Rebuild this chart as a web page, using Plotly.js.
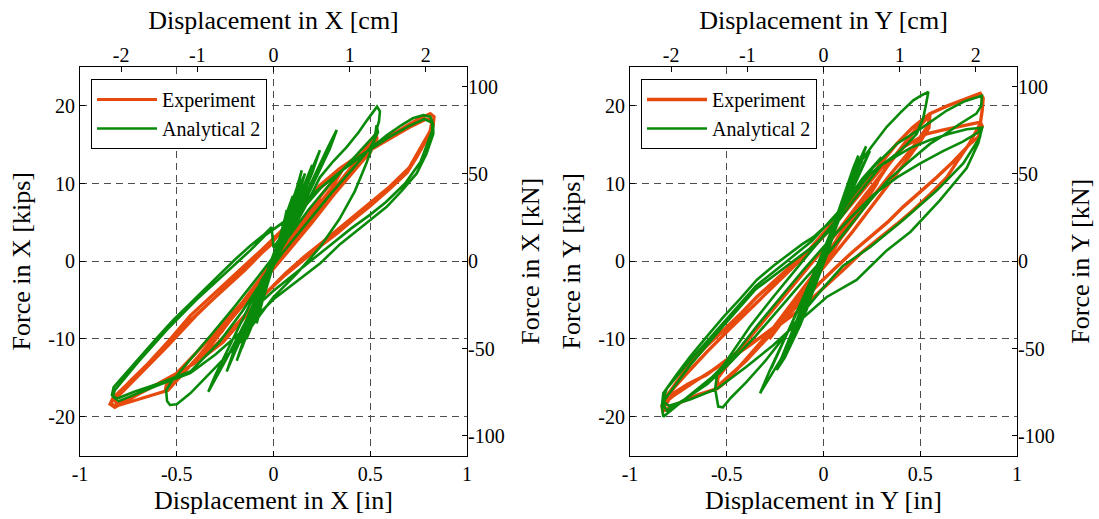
<!DOCTYPE html>
<html><head><meta charset="utf-8">
<script src="https://cdn.plot.ly/plotly-3.0.1.min.js"></script>
<style>html,body{margin:0;padding:0;background:#fff}#chart{width:1099px;height:519px}</style>
</head><body><div id="chart"></div><script>
// ---- tick labels ----
const inTickVals = [-1, -0.5, 0, 0.5, 1];
const inTickText = ['-1', '-0.5', '0', '0.5', '1'];
const cmTickVals = [-2, -1, 0, 1, 2];
const cmTickText = ['-2', '-1', '0', '1', '2'];
const kipTickVals = [-20, -10, 0, 10, 20];
const kipTickText = ['-20', '-10', '0', '10', '20'];
const kNTickVals = [-100, -50, 0, 50, 100];
const kNTickText = ['-100', '-50', '0', '50', '100'];
const seriesNames = ['Experiment', 'Analytical 2'];

// ---- X direction: [displacement in, force kips] ----
const expX = [
[0.00,0.0],[0.06,2.2],[0.12,4.3],[0.08,2.6],[0.00,-0.2],[-0.08,-3.0],[-0.13,-4.8],[-0.09,-3.2],[0.00,0.3],
[0.10,3.8],[0.20,7.0],[0.24,8.2],[0.18,5.8],[0.08,2.4],[-0.05,-1.6],[-0.15,-5.0],[-0.24,-8.0],[-0.27,-9.2],[-0.20,-6.6],[-0.08,-2.6],
[0.05,1.8],[0.15,5.2],[0.25,8.6],[0.33,11.0],[0.36,11.9],[0.30,9.4],[0.18,5.6],[0.05,1.3],[-0.10,-3.8],[-0.22,-7.5],[-0.32,-10.6],[-0.36,-12.0],
[-0.30,-10.0],[-0.18,-6.2],[-0.05,-2.0],[0.08,2.2],[0.20,5.8],[0.33,9.8],[0.43,13.0],[0.50,15.3],[0.53,16.4],[0.535,15.8],[0.50,14.0],[0.42,11.8],[0.30,8.4],[0.18,4.9],[0.05,1.0],[-0.08,-3.0],[-0.20,-6.6],[-0.32,-10.2],[-0.42,-13.2],[-0.50,-15.3],[-0.56,-16.8],
[-0.555,-16.0],[-0.50,-14.4],[-0.40,-11.8],[-0.28,-8.6],[-0.15,-5.0],[0.00,-0.8],[0.15,3.8],[0.28,8.0],[0.40,11.8],[0.48,14.4],[0.53,16.0],[0.525,15.2],[0.45,12.6],[0.32,8.8],[0.20,5.0],[0.06,0.8],[-0.10,-4.0],[-0.25,-8.4],[-0.38,-12.0],[-0.48,-14.8],[-0.545,-16.6],
[-0.65,-17.4],[-0.75,-18.2],[-0.82,-18.7],[-0.84,-18.2],
[-0.80,-17.0],[-0.74,-15.4],[-0.65,-13.2],[-0.54,-10.2],[-0.43,-7.0],[-0.30,-4.0],[-0.18,-1.3],[-0.06,1.5],[0.04,3.9],[0.14,6.9],[0.24,9.8],[0.34,11.9],[0.45,13.8],[0.55,15.4],[0.65,16.9],[0.74,18.2],[0.81,19.0],[0.83,18.6],
[0.825,17.4],[0.79,15.6],[0.74,13.4],[0.69,11.4],[0.60,9.3],[0.50,7.1],[0.41,5.3],[0.33,3.6],[0.24,1.9],[0.15,0.1],[0.05,-2.0],[-0.05,-4.4],[-0.15,-7.2],[-0.26,-10.4],[-0.38,-12.7],[-0.52,-14.8],[-0.69,-17.0],[-0.78,-18.3],[-0.82,-18.8],[-0.845,-18.4],
[-0.83,-17.6],[-0.76,-15.9],[-0.66,-13.6],[-0.55,-10.8],[-0.43,-7.6],[-0.30,-4.6],[-0.15,-1.2],[0.00,2.6],[0.12,6.2],[0.24,9.4],[0.36,11.9],[0.48,14.0],[0.60,15.8],[0.70,17.2],[0.79,18.3],[0.82,18.2],
[0.81,16.8],[0.76,14.6],[0.70,12.0],[0.60,9.6],[0.48,7.1],[0.36,4.6],[0.26,2.6],[0.16,0.6],[0.06,-1.6],[-0.06,-4.6],[-0.18,-7.8],[-0.30,-10.8],[-0.44,-13.6],[-0.60,-15.8],[-0.74,-17.6],[-0.81,-18.4],
[-0.82,-17.8],[-0.70,-14.8],[-0.55,-11.0],[-0.40,-7.0],[-0.25,-3.4],[-0.10,0.2],[0.00,2.4]
];
const anaX = [
[0.00,0.0],[0.04,3.2],[0.068,6.6],[0.05,4.4],[0.00,0.2],[-0.05,-4.2],[-0.087,-8.0],[-0.06,-5.4],[0.00,-0.4],
[0.06,5.0],[0.12,9.4],[0.146,11.7],[0.12,9.0],[0.05,3.4],[-0.05,-3.6],[-0.12,-8.4],[-0.164,-11.2],[-0.13,-8.6],[-0.05,-2.4],
[0.05,4.2],[0.12,8.8],[0.163,11.3],[0.13,8.6],[0.02,1.0],[-0.10,-6.4],[-0.18,-10.6],[-0.21,-12.3],[-0.16,-9.4],[-0.05,-2.8],
[0.04,3.6],[0.10,8.0],[0.14,10.6],[0.10,7.4],[0.00,0.6],[-0.08,-5.8],[-0.14,-9.8],[-0.11,-7.6],[-0.02,-1.2],
[0.06,3.8],[0.16,9.6],[0.24,14.3],[0.20,11.4],[0.08,4.2],[-0.06,-3.6],[-0.16,-9.4],[-0.242,-14.2],[-0.20,-11.2],[-0.08,-4.0],
[0.04,2.4],[0.12,7.4],[0.20,12.4],[0.17,10.0],[0.06,3.0],[-0.06,-4.2],[-0.15,-10.0],[-0.19,-12.8],[-0.15,-9.8],[-0.04,-2.6],
[0.06,3.0],[0.18,9.4],[0.28,14.6],[0.327,16.9],[0.29,14.4],[0.16,7.6],[0.02,0.4],[-0.12,-6.6],[-0.24,-12.4],[-0.337,-16.8],[-0.30,-14.6],[-0.18,-8.4],[-0.06,-2.4],
[0.06,2.4],[0.16,6.8],[0.24,10.8],[0.31,12.9],[0.378,14.7],[0.44,16.6],[0.482,18.1],[0.52,19.4],[0.535,19.9],[0.55,19.3],[0.545,18.0],[0.525,16.3],
[0.47,14.8],[0.40,13.0],[0.30,10.2],[0.18,6.6],[0.05,2.2],[-0.08,-2.0],[-0.20,-5.8],[-0.32,-9.4],[-0.44,-13.0],[-0.53,-15.6],[-0.555,-16.6],[-0.55,-18.0],[-0.535,-18.5],[-0.50,-18.4],
[-0.43,-17.0],[-0.345,-14.8],[-0.26,-12.7],[-0.173,-10.4],[-0.09,-7.6],[0.00,-4.6],[0.12,-1.6],[0.24,1.8],[0.34,5.4],[0.42,9.0],[0.48,12.6],[0.52,15.4],[0.533,17.5],[0.54,16.6],[0.50,14.6],[0.42,12.2],[0.30,8.8],[0.18,5.2],[0.05,1.2],
[-0.06,-2.6],[-0.16,-6.4],[-0.28,-10.4],[-0.43,-14.2],[-0.60,-15.8],[-0.72,-16.8],[-0.81,-17.7],[-0.835,-17.2],
[-0.826,-16.2],[-0.76,-14.3],[-0.69,-12.3],[-0.60,-9.8],[-0.52,-7.6],[-0.43,-5.4],[-0.345,-3.4],[-0.27,-1.6],[-0.20,0.2],[-0.12,2.0],[-0.05,3.4],[-0.01,4.4],[0.00,1.8],
[0.06,3.8],[0.14,6.4],[0.25,9.6],[0.35,11.6],[0.447,13.4],[0.52,14.9],[0.585,16.2],[0.66,17.5],[0.72,18.4],[0.774,18.8],[0.81,18.6],[0.825,17.6],[0.826,16.4],
[0.79,13.8],[0.74,11.3],[0.66,9.0],[0.585,7.0],[0.50,5.3],[0.412,3.6],[0.344,2.2],[0.24,-0.3],[0.16,-1.8],[0.085,-3.3],[0.00,-4.9],[-0.10,-7.4],[-0.19,-9.6],[-0.30,-12.0],[-0.43,-14.4],[-0.60,-16.0],[-0.72,-17.2],[-0.80,-18.0],[-0.83,-17.4],
[-0.82,-16.6],[-0.70,-13.0],[-0.55,-8.8],[-0.40,-5.0],[-0.25,-1.6],[-0.12,1.4],[-0.04,3.4],[0.05,5.0],[0.15,7.6],[0.30,10.6],[0.45,13.6],[0.60,16.0],[0.70,17.4],[0.78,18.3],[0.82,17.8],
[0.82,16.8],[0.76,12.8],[0.68,10.0],[0.58,7.6],[0.50,6.0],[0.40,4.2],[0.30,2.2],[0.20,0.2],[0.10,-1.8],[0.00,-3.8],[-0.08,-5.6],
[0.00,0.0],[0.06,5.6],[0.10,8.4],[0.07,5.8],[0.00,0.4],[-0.10,-7.6],[-0.14,-10.0]
];

// ---- Y direction: [displacement in, force kips] ----
const expY = [
[0.00,0.0],[0.08,3.0],[0.14,5.2],[0.10,3.4],[0.00,-0.6],[-0.10,-4.0],[-0.15,-5.8],[-0.10,-3.8],[0.00,0.2],
[0.12,4.8],[0.24,8.8],[0.28,10.2],[0.20,7.0],[0.06,1.8],[-0.10,-4.0],[-0.22,-8.0],[-0.28,-10.0],[-0.20,-7.0],[-0.06,-2.0],
[0.10,3.6],[0.22,8.0],[0.34,12.6],[0.45,16.2],[0.52,18.2],[0.55,19.0],[0.545,17.2],[0.50,15.4],[0.40,12.0],[0.28,8.0],[0.15,3.8],[0.00,-0.8],[-0.15,-5.6],[-0.28,-9.6],[-0.40,-12.8],[-0.50,-15.0],[-0.552,-16.2],
[-0.545,-15.0],[-0.48,-12.8],[-0.36,-9.2],[-0.22,-5.0],[-0.08,-0.8],[0.06,3.4],[0.20,8.0],[0.34,12.6],[0.46,16.4],[0.55,18.8],[0.54,17.4],[0.46,14.6],[0.34,11.0],[0.20,6.6],[0.06,2.0],[-0.10,-3.4],[-0.26,-8.6],[-0.40,-12.6],[-0.50,-15.4],[-0.55,-16.4],
[-0.65,-17.2],[-0.76,-18.4],[-0.83,-19.3],[-0.835,-18.6],
[-0.80,-17.0],[-0.69,-13.1],[-0.60,-10.8],[-0.518,-8.9],[-0.43,-6.8],[-0.345,-4.6],[-0.26,-2.6],[-0.173,-0.7],[-0.08,1.3],[0.00,3.6],[0.10,6.6],[0.206,9.6],[0.29,12.4],[0.378,15.1],[0.46,17.2],[0.55,19.0],[0.64,20.0],[0.73,20.9],[0.81,21.6],[0.825,21.0],
[0.82,19.4],[0.81,17.7],[0.75,15.0],[0.70,13.2],[0.637,10.8],[0.55,8.6],[0.464,6.6],[0.38,4.8],[0.292,3.1],[0.20,1.2],[0.12,-0.7],[0.04,-2.5],[-0.035,-4.2],[-0.13,-6.4],[-0.26,-8.8],[-0.431,-11.4],[-0.604,-14.6],[-0.70,-15.8],[-0.776,-17.0],[-0.82,-18.6],[-0.83,-19.2],
[-0.82,-17.6],[-0.72,-14.8],[-0.60,-11.6],[-0.48,-8.6],[-0.35,-5.4],[-0.20,-1.8],[-0.06,1.6],[0.06,4.8],[0.18,8.4],[0.30,12.0],[0.42,14.8],[0.533,16.4],[0.62,16.9],[0.70,17.3],[0.81,17.9],[0.82,17.4],
[0.80,16.0],[0.757,15.1],[0.67,12.8],[0.585,10.8],[0.50,8.9],[0.412,7.0],[0.33,5.0],[0.24,3.1],[0.15,1.2],[0.068,-0.7],[-0.02,-2.8],[-0.12,-5.4],[-0.24,-8.2],[-0.38,-10.8],[-0.52,-13.2],[-0.66,-15.4],[-0.78,-17.4],[-0.82,-18.2]
];
const anaY = [
[0.00,0.0],[0.04,3.0],[0.08,6.0],[0.05,3.6],[-0.04,-2.8],[-0.09,-6.4],[-0.05,-3.4],[0.02,1.8],
[0.08,6.4],[0.13,10.2],[0.10,7.6],[0.00,0.0],[-0.10,-7.0],[-0.173,-11.0],[-0.12,-7.8],[-0.02,-0.6],
[0.08,6.8],[0.154,12.0],[0.18,13.6],[0.14,10.2],[0.02,1.0],[-0.12,-8.2],[-0.20,-12.4],[-0.242,-14.0],[-0.20,-11.4],[-0.06,-2.8],
[0.04,3.4],[0.12,9.0],[0.20,13.0],[0.16,10.8],[0.06,4.6],[-0.06,-3.0],[-0.16,-9.6],[-0.22,-13.2],[-0.17,-10.4],[-0.05,-2.6],
[0.06,4.6],[0.16,11.6],[0.22,14.8],[0.18,12.0],[0.05,3.4],[-0.10,-6.6],[-0.22,-12.6],[-0.328,-17.0],[-0.28,-14.2],[-0.14,-6.8],[0.00,0.8],
[0.09,6.2],[0.17,10.6],[0.24,14.2],[0.20,12.0],[0.08,5.4],[-0.06,-2.2],[-0.18,-9.0],[-0.27,-13.8],[-0.23,-11.6],[-0.10,-4.4],[0.00,1.4],
[0.10,7.6],[0.171,12.1],[0.25,14.8],[0.327,17.3],[0.40,19.2],[0.464,20.7],[0.51,21.4],[0.542,21.8],[0.53,20.2],[0.516,18.5],[0.482,16.4],[0.43,15.0],[0.378,13.8],[0.30,12.4],[0.24,11.2],[0.15,8.4],[0.05,4.8],[-0.05,1.8],[-0.15,-1.2],[-0.26,-4.6],[-0.38,-8.4],[-0.48,-12.0],[-0.55,-14.6],[-0.56,-16.4],[-0.55,-18.0],[-0.544,-18.7],[-0.52,-18.8],
[-0.48,-17.6],[-0.40,-15.6],[-0.30,-12.8],[-0.20,-9.6],[-0.10,-6.4],[0.00,-3.4],[0.10,-0.6],[0.24,1.8],[0.412,5.3],[0.585,9.1],[0.722,12.6],[0.809,16.0],[0.818,17.3],
[0.80,16.6],[0.72,15.4],[0.62,14.2],[0.50,12.6],[0.38,10.8],[0.26,8.6],[0.14,5.6],[0.02,2.4],[-0.10,-1.0],[-0.22,-4.6],[-0.34,-8.2],[-0.46,-12.0],[-0.58,-15.0],[-0.69,-17.2],[-0.80,-19.4],[-0.828,-20.0],
[-0.835,-18.6],[-0.828,-17.0],[-0.76,-14.6],[-0.69,-12.3],[-0.60,-9.6],[-0.518,-7.2],[-0.43,-4.8],[-0.345,-2.4],[-0.26,-0.6],[-0.173,1.0],[-0.11,2.2],[-0.053,3.1],[0.05,5.4],[0.15,8.6],[0.257,12.1],[0.378,15.1],[0.516,17.3],[0.637,19.4],[0.73,20.6],[0.818,21.3],[0.815,20.0],[0.79,19.0],[0.70,17.6],[0.62,16.2],[0.55,15.1],
[0.45,13.0],[0.34,10.6],[0.24,7.8],[0.14,4.6],[0.03,1.2],[-0.10,-2.4],[-0.22,-5.8],[-0.35,-9.6],[-0.48,-13.0],[-0.60,-15.8],[-0.72,-17.8],[-0.81,-19.2],[-0.83,-18.4],
[-0.82,-17.8],[-0.69,-13.4],[-0.52,-8.4],[-0.35,-3.6],[-0.17,-0.2],[-0.05,2.0],[0.06,4.6],[0.16,8.0],[0.30,12.4],[0.45,14.6],[0.55,15.6],[0.65,16.4],[0.74,17.0],[0.82,17.2],
[0.80,15.2],[0.74,12.0],[0.60,7.8],[0.45,3.8],[0.327,1.4],[0.171,-2.4],[0.017,-4.6],[-0.12,-7.6],[-0.26,-10.8],[-0.40,-13.6],[-0.55,-16.4],[-0.69,-17.8],[-0.80,-18.6],[-0.83,-18.0],
[-0.81,-16.4],[-0.69,-12.8],[-0.52,-8.0],[-0.35,-3.2],[-0.17,0.4],[-0.06,2.6],[0.10,7.0],[0.20,10.6],[0.30,13.4]
];

// ---- styling ----
const FONT = 'Liberation Serif, Times New Roman, serif';
const W = 1099, H = 519;
const ORANGE = '#E64A0C', GREEN = '#0A8A0A';
const IN_RANGE = [-1, 1], KIP_RANGE = [-25, 25];
const CM_PER_IN = 2.54, KN_PER_KIP = 4.448222;
const LEFT_DOM = [80 / W, 467 / W], RIGHT_DOM = [630 / W, 1017 / W], Y_DOM = [1 - 455.5 / H, 1 - 67 / H];

function tr(data, name, color, xa, ya, leg, width) {
  return { type: 'scatter', mode: 'lines', name: name,
    x: data.map(p => p[0]), y: data.map(p => p[1]),
    xaxis: xa, yaxis: ya, legend: leg,
    line: { color: color, width: width }, hoverinfo: 'skip' };
}
// empty carriers so the secondary (cm / kN) axes are drawn
function carrier(xa, ya) {
  return { type: 'scatter', mode: 'lines', x: [], y: [], xaxis: xa, yaxis: ya, showlegend: false, hoverinfo: 'skip' };
}
const traces = [
  tr(expX, seriesNames[0], ORANGE, 'x', 'y', 'legend', 3.2),
  tr(anaX, seriesNames[1], GREEN, 'x', 'y', 'legend', 2.6),
  tr(expY, seriesNames[0], ORANGE, 'x2', 'y2', 'legend2', 3.4),
  tr(anaY, seriesNames[1], GREEN, 'x2', 'y2', 'legend2', 2.6),
  carrier('x3', 'y'), carrier('x', 'y3'), carrier('x4', 'y2'), carrier('x2', 'y4')
];

const tickFont = { family: FONT, size: 20, color: '#000' };
const titleFont = { family: FONT, size: 26, color: '#000' };
function ax(o) {
  return Object.assign({
    ticks: 'inside', ticklen: 5, tickwidth: 1, tickcolor: '#000',
    tickfont: tickFont, tickmode: 'array', zeroline: false,
    automargin: false, fixedrange: true, linecolor: '#000', linewidth: 1
  }, o);
}
const gridStyle = { showgrid: true, gridcolor: '#4d4d4d', gridwidth: 1, griddash: '7px,5px' };

function bottomX(dom, anchor, label) {
  return ax(Object.assign({ domain: dom, anchor: anchor, range: IN_RANGE, tickvals: inTickVals, ticktext: inTickText,
    showline: true, mirror: true, title: { text: label, font: titleFont, standoff: 7 } }, gridStyle));
}
function leftY(anchor, label) {
  return ax(Object.assign({ domain: Y_DOM, anchor: anchor, range: KIP_RANGE, tickvals: kipTickVals, ticktext: kipTickText,
    showline: true, mirror: true, title: { text: label, font: titleFont, standoff: 10 } }, gridStyle));
}
function topX(over, anchor, label) {
  return ax({ overlaying: over, side: 'top', anchor: anchor, range: IN_RANGE.map(v => v * CM_PER_IN),
    tickvals: cmTickVals, ticktext: cmTickText, showline: false, showgrid: false,
    title: { text: label, font: titleFont, standoff: 6 } });
}
function rightY(over, anchor, label) {
  return ax({ overlaying: over, side: 'right', anchor: anchor, range: KIP_RANGE.map(v => v * KN_PER_KIP),
    tickvals: kNTickVals, ticktext: kNTickText, showline: false, showgrid: false,
    title: { text: label, font: titleFont, standoff: 17 } });
}
function legendAt(px) {
  return { x: px / W, y: 1 - 79 / H, xanchor: 'left', yanchor: 'top', bgcolor: '#fff',
    bordercolor: '#000', borderwidth: 1, font: { family: FONT, size: 20, color: '#000' },
    itemwidth: 60, tracegroupgap: 0 };
}

const layout = {
  width: W, height: H, margin: { l: 0, r: 0, t: 0, b: 0 },
  paper_bgcolor: '#fff', plot_bgcolor: '#fff', showlegend: true, hovermode: false,
  font: { family: FONT, color: '#000' },
  xaxis: bottomX(LEFT_DOM, 'y', 'Displacement in X [in]'),
  yaxis: leftY('x', 'Force in X [kips]'),
  xaxis3: topX('x', 'y', 'Displacement in X [cm]'),
  yaxis3: rightY('y', 'x', 'Force in X [kN]'),
  xaxis2: bottomX(RIGHT_DOM, 'y2', 'Displacement in Y [in]'),
  yaxis2: leftY('x2', 'Force in Y [kips]'),
  xaxis4: topX('x2', 'y2', 'Displacement in Y [cm]'),
  yaxis4: rightY('y2', 'x2', 'Force in Y [kN]'),
  legend: legendAt(91),
  legend2: legendAt(641)
};
Plotly.newPlot('chart', traces, layout, { displayModeBar: false, staticPlot: true });
</script></body></html>
